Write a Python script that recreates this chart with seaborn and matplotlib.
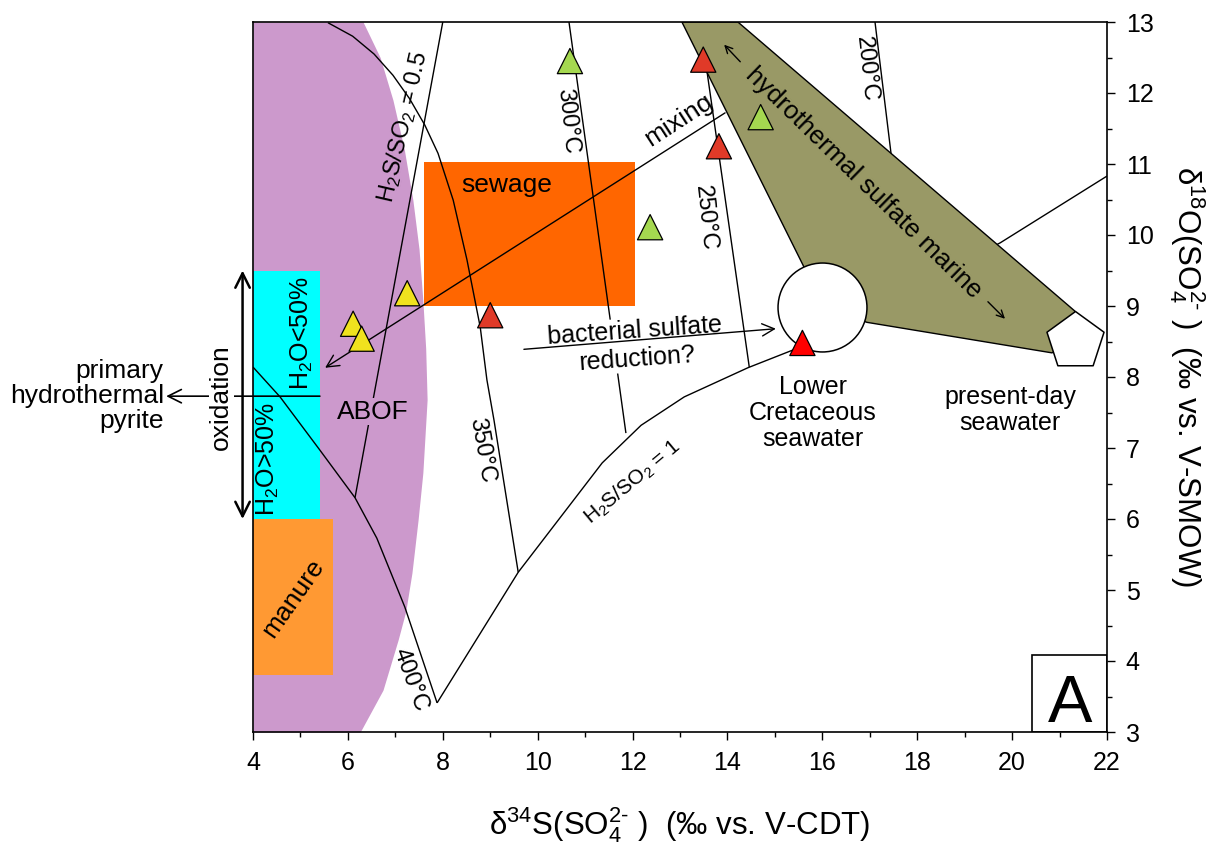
import numpy as np
import pandas as pd
import matplotlib
matplotlib.use("Agg")
import matplotlib.pyplot as plt
from matplotlib.patches import Rectangle, Polygon
from matplotlib.ticker import MultipleLocator
import seaborn as sns

# ---------------- data ----------------
# sample triangles
tri_group = ["yellow", "yellow", "yellow", "green", "green", "green",
             "red", "red", "red", "red (Lower Cretaceous)"]
tri_d34s = [7.25, 6.11, 6.29, 10.68, 12.37, 14.70, 9.00, 13.49, 13.82, 15.58]
tri_d18o = [9.18, 8.75, 8.54, 12.45, 10.11, 11.66, 8.87, 12.47, 11.25, 8.48]

# seawater end-members
sw_names = ["Lower Cretaceous seawater", "present-day seawater"]
sw_d34s = [16.0, 21.32]
sw_d18o = [8.98, 8.51]

# ABOF field (right-hand boundary, left boundary is the axis)
abof_y = [13.0, 12.5, 11.9, 11.2, 10.49, 9.8, 9.08, 8.4, 7.68, 6.65, 5.99, 5.24, 4.70, 4.30, 3.59, 3.0]
abof_x = [6.32, 6.68, 6.95, 7.19, 7.37, 7.50, 7.58, 7.64, 7.67, 7.58, 7.48, 7.35, 7.22, 7.06, 6.74, 6.26]

# rectangular source fields: (x0, x1, y0, y1)
oxid_box = (4.0, 5.41, 6.0, 9.5)
manure_box = (4.0, 5.69, 3.8, 6.0)
sewage_box = (7.6, 12.05, 9.0, 11.03)

# hydrothermal sulfate marine field
hsm_x = [13.04, 14.22, 21.32, 21.32, 20.84, 16.94, 16.0, 15.59]
hsm_y = [13.0, 13.0, 8.93, 8.51, 8.34, 8.77, 9.0, 9.58]

# isotherms
iso200_x = [17.11, 17.80]
iso200_y = [13.0, 9.22]
iso250_x = [13.42, 14.46]
iso250_y = [13.0, 8.14]
iso300_x = [10.66, 11.86]
iso300_y = [13.0, 7.21]
iso350_x = [5.58, 6.10, 6.55, 6.95, 7.30, 7.62, 7.90, 8.22, 8.51, 8.79, 8.93, 9.08, 9.59]
iso350_y = [12.99, 12.80, 12.55, 12.25, 11.92, 11.55, 11.15, 10.49, 9.65, 8.70, 7.96, 7.39, 5.25]
iso400_x = [4.0, 4.57, 5.41, 6.15, 6.61, 7.20, 7.88]
iso400_y = [8.14, 7.72, 6.97, 6.30, 5.73, 4.76, 3.41]

# H2S/SO2 ratio lines
r05_x = [8.0, 6.15]
r05_y = [13.0, 6.30]
r1_x = [7.88, 9.59, 11.36, 12.18, 13.09, 14.43, 15.38, 19.75, 22.0]
r1_y = [3.41, 5.25, 6.79, 7.32, 7.72, 8.13, 8.38, 9.89, 10.83]

# arrows (start -> end)
mixing_x = [13.95, 5.52]
mixing_y = [11.72, 8.13]
bsr_x = [9.71, 15.02]
bsr_y = [8.39, 8.68]
oxid_arrow_x = [3.78, 3.78]
oxid_arrow_y = [6.0, 9.5]
pyrite_x = [5.41, 2.17]
pyrite_y = [7.73, 7.73]
hsm_arrow_up_x = [14.27, 13.93]
hsm_arrow_up_y = [12.44, 12.68]
hsm_arrow_down_x = [19.49, 19.85]
hsm_arrow_down_y = [9.06, 8.82]

x_ticks = list(range(4, 23, 2))
y_ticks = list(range(3, 14, 1))

# ---------------- style ----------------
sns.set_theme(style="ticks")
plt.rcParams["font.family"] = ["Liberation Sans", "DejaVu Sans"]
plt.rcParams["mathtext.fontset"] = "custom"
plt.rcParams["mathtext.rm"] = "Liberation Sans"
plt.rcParams["mathtext.it"] = "Liberation Sans:italic"
plt.rcParams["mathtext.bf"] = "Liberation Sans:bold"
plt.rcParams["mathtext.default"] = "regular"
for k in ["text.color", "axes.labelcolor", "xtick.color", "ytick.color", "axes.edgecolor"]:
    plt.rcParams[k] = "black"

C_ABOF = "#CC99CC"
C_CYAN = "#00FFFF"
C_MANURE = "#FF9933"
C_SEWAGE = "#FF6600"
C_OLIVE = "#999966"
tri_palette = {"yellow": "#F0E21E", "green": "#A5D850",
               "red": "#E03A28", "red (Lower Cretaceous)": "#FF0000"}

fig = plt.figure(figsize=(12.15, 8.5), dpi=100)
ax = fig.add_axes([253 / 1215, 118 / 850, 854 / 1215, 710 / 850])
ax.set_xlim(x_ticks[0], x_ticks[-1])
ax.set_ylim(y_ticks[0], y_ticks[-1])

# ---------------- fields ----------------
ax.fill_betweenx(abof_y, x_ticks[0], abof_x, color=C_ABOF, lw=0, zorder=1)
for box, col in [(oxid_box, C_CYAN), (manure_box, C_MANURE), (sewage_box, C_SEWAGE)]:
    ax.add_patch(Rectangle((box[0], box[2]), box[1] - box[0], box[3] - box[2],
                           facecolor=col, edgecolor="none", zorder=2))

# ---------------- lines ----------------
lkw = dict(color="black", lw=1.0, zorder=3, solid_capstyle="butt", solid_joinstyle="round")
for xs, ys in [(iso200_x, iso200_y), (iso250_x, iso250_y), (iso300_x, iso300_y),
               (iso350_x, iso350_y), (iso400_x, iso400_y), (r05_x, r05_y), (r1_x, r1_y)]:
    ax.plot(xs, ys, **lkw)

ax.annotate("", xy=(mixing_x[1], mixing_y[1]), xytext=(mixing_x[0], mixing_y[0]),
            arrowprops=dict(arrowstyle="->", lw=1.0, color="black", mutation_scale=22,
                            shrinkA=0, shrinkB=0), zorder=3)

# hydrothermal sulfate marine field (covers line ends)
ax.add_patch(Polygon(np.column_stack([hsm_x, hsm_y]), closed=True,
                     facecolor=C_OLIVE, edgecolor="black", lw=1.0, zorder=4))
for xs, ys in [(hsm_arrow_up_x, hsm_arrow_up_y), (hsm_arrow_down_x, hsm_arrow_down_y)]:
    ax.annotate("", xy=(xs[1], ys[1]), xytext=(xs[0], ys[0]),
                arrowprops=dict(arrowstyle="->", lw=1.0, color="black", mutation_scale=13,
                                shrinkA=0, shrinkB=0), zorder=8)

# seawater markers
sns.scatterplot(x=[sw_d34s[0]], y=[sw_d18o[0]], marker="o", s=4100, color="white",
                edgecolor="black", linewidth=1.1, ax=ax, zorder=5, legend=False)
sns.scatterplot(x=[sw_d34s[1]], y=[sw_d18o[1]], marker="p", s=1866, color="white",
                edgecolor="black", linewidth=1.1, ax=ax, zorder=5, legend=False)

# bacterial sulfate reduction
ax.text(12.07, 8.45, "bacterial sulfate\nreduction?", fontsize=18, ha="center",
        va="center", rotation=4, linespacing=1.25, zorder=5,
        bbox=dict(facecolor="white", edgecolor="none", pad=0.5))
ax.annotate("", xy=(bsr_x[1], bsr_y[1]), xytext=(bsr_x[0], bsr_y[0]),
            arrowprops=dict(arrowstyle="->", lw=1.0, color="black", mutation_scale=22,
                            shrinkA=0, shrinkB=0), zorder=6)

# triangles
tri_df = pd.DataFrame({"group": tri_group, "d34S": tri_d34s, "d18O": tri_d18o})
sns.scatterplot(data=tri_df, x="d34S", y="d18O", hue="group", palette=tri_palette,
                marker="^", s=330, edgecolor="black", linewidth=0.9, legend=False,
                ax=ax, zorder=7)

# oxidation arrow and primary pyrite arrow (outside axes)
ax.annotate("", xy=(pyrite_x[1], pyrite_y[1]), xytext=(pyrite_x[0], pyrite_y[0]),
            arrowprops=dict(arrowstyle="->", lw=1.2, color="black", mutation_scale=24,
                            shrinkA=0, shrinkB=0), annotation_clip=False, zorder=6)
ax.text(3.33, 7.72, "oxidation", fontsize=19, rotation=90, ha="center", va="center",
        zorder=7, bbox=dict(facecolor="white", edgecolor="none", pad=0.3), clip_on=False)
ax.annotate("", xy=(oxid_arrow_x[1], oxid_arrow_y[1]),
            xytext=(oxid_arrow_x[0], oxid_arrow_y[0]),
            arrowprops=dict(arrowstyle="<->", lw=1.8, color="black", mutation_scale=26,
                            shrinkA=0, shrinkB=0), annotation_clip=False, zorder=8)
ax.text(2.12, 7.73, "primary\nhydrothermal\npyrite", fontsize=19, ha="right",
        va="center", linespacing=1.05, clip_on=False)

# ---------------- labels ----------------
iso_kw = dict(fontsize=17, ha="center", va="center", zorder=8)
ax.text(16.92, 12.34, "200°C", rotation=-84, **iso_kw)
ax.text(13.53, 10.24, "250°C", rotation=-84, **iso_kw)
ax.text(10.62, 11.61, "300°C", rotation=-84, **iso_kw)
ax.text(8.83, 6.97, "350°C", rotation=-80, **iso_kw)
ax.text(7.31, 3.73, "400°C", rotation=-70, **iso_kw)
ax.text(7.16, 11.52, r"H$_2$S/SO$_2$ = 0.5", rotation=77, fontsize=17,
        ha="center", va="center", zorder=8)
ax.text(11.99, 6.52, r"H$_2$S/SO$_2$ = 1", rotation=40, fontsize=15,
        ha="center", va="center", zorder=8)
ax.text(12.98, 11.62, "mixing", rotation=33, fontsize=19, ha="center", va="center", zorder=8)
ax.text(16.88, 10.74, "hydrothermal sulfate marine",
        rotation=-44.3, fontsize=18.5, ha="center", va="center",
        rotation_mode="anchor", zorder=8)
ax.text(9.35, 10.70, "sewage", fontsize=19, ha="center", va="center", zorder=8)
ax.text(6.53, 7.51, "ABOF", fontsize=19, ha="center", va="center", zorder=8,
        bbox=dict(facecolor=C_ABOF, edgecolor="none", pad=1))
ax.text(4.84, 4.89, "manure", rotation=55, fontsize=19, ha="center", va="center", zorder=8)
ax.text(5.03, 8.62, r"H$_2$O<50%", rotation=90, fontsize=18, ha="center", va="center", zorder=8)
ax.text(4.32, 6.85, r"H$_2$O>50%", rotation=90, fontsize=18, ha="center", va="center", zorder=8)
ax.text(15.80, 7.49, "Lower\nCretaceous\nseawater", fontsize=18, ha="center",
        va="center", linespacing=1.12, zorder=8)
ax.text(19.96, 7.54, "present-day\nseawater", fontsize=18, ha="center",
        va="center", linespacing=1.12, zorder=8)

# panel label
ax.add_patch(Rectangle((20.42, 3.0), 1.58, 1.08, facecolor="white", edgecolor="black",
                       lw=1.2, zorder=8))
ax.text(21.22, 3.14, "A", fontsize=48, ha="center", va="baseline", zorder=9)

# ---------------- axes ----------------
ax.set_xticks(x_ticks)
ax.set_yticks(y_ticks)
ax.xaxis.set_minor_locator(MultipleLocator(1))
ax.yaxis.set_minor_locator(MultipleLocator(0.5))
ax.yaxis.tick_right()
ax.tick_params(which="both", direction="out", width=1.0, color="black",
               labelcolor="black", labelsize=18)
ax.tick_params(which="major", length=5.5)
ax.tick_params(which="minor", length=3.5)
ax.tick_params(axis="x", which="both", top=False, bottom=True, pad=8)
ax.tick_params(axis="y", which="both", left=False, right=True, pad=8)
for sp in ax.spines.values():
    sp.set_visible(True)
    sp.set_color("black")
    sp.set_linewidth(1.2)
    sp.set_zorder(10)

ax.set_xlabel("δ$^{34}$S(SO$_4^{2\u2010}$ )  (‰ vs. V-CDT)", fontsize=22.5)
ax.set_ylabel("δ$^{18}$O(SO$_4^{2\u2010}$ )  (‰ vs. V-SMOW)", fontsize=22.5, rotation=270)
ax.yaxis.set_label_position("right")
ax.xaxis.label.set_va("center")
ax.xaxis.label.set_ha("center")
ax.yaxis.label.set_va("center")
ax.yaxis.label.set_ha("center")
ax.xaxis.set_label_coords(0.5, -0.131)
ax.yaxis.set_label_coords(1.0937, 0.5)

fig.savefig("out.png", dpi=100)
